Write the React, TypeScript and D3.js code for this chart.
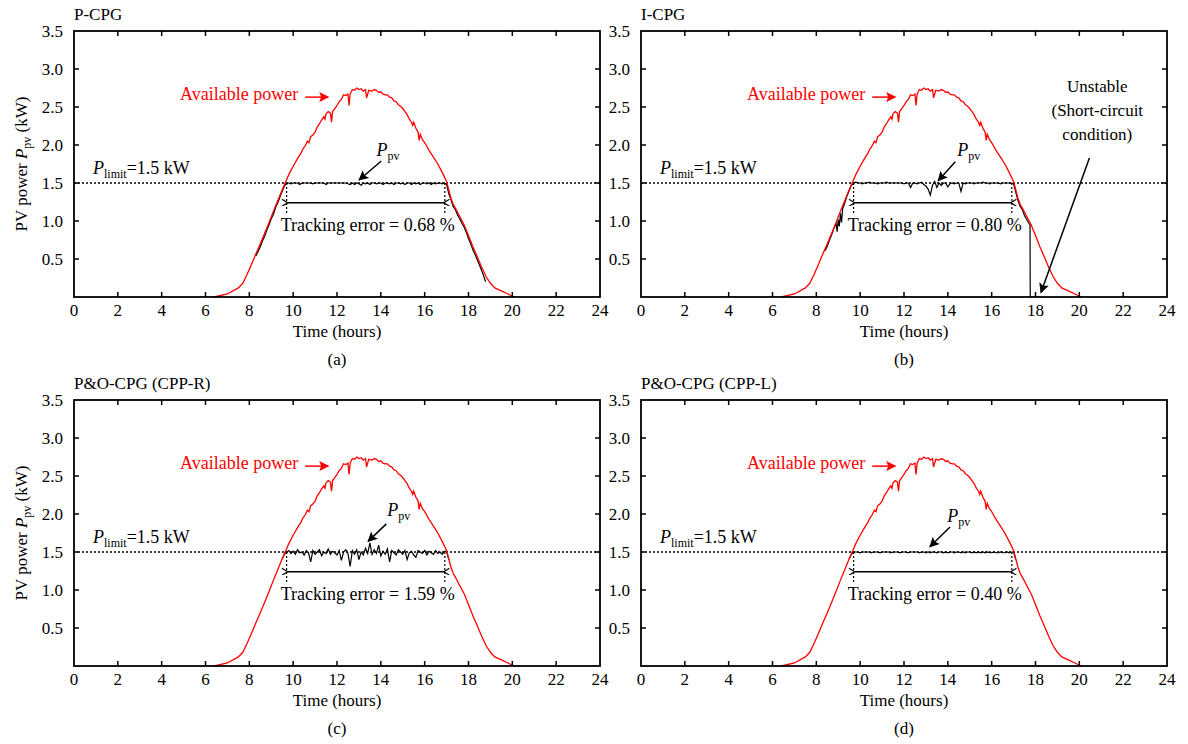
import React from 'react';
import * as d3 from 'd3';

// ---------- data ----------
const availHours = [6.4, 7.0, 7.5, 7.7, 7.9, 8.1, 8.3, 8.5, 8.7, 8.9, 9.1, 9.3, 9.5, 9.65, 9.8, 10.0, 10.2, 10.35, 10.45, 10.55, 10.65, 10.72, 10.8, 10.9, 11.0, 11.1, 11.2, 11.3, 11.4, 11.45, 11.5, 11.6, 11.7, 11.75, 11.8, 11.9, 12.0, 12.1, 12.2, 12.3, 12.4, 12.5, 12.55, 12.6, 12.7, 12.8, 12.9, 13.0, 13.1, 13.2, 13.3, 13.35, 13.45, 13.6, 13.7, 13.8, 13.9, 14.0, 14.1, 14.2, 14.3, 14.4, 14.5, 14.6, 14.7, 14.8, 14.9, 15.0, 15.1, 15.2, 15.3, 15.4, 15.45, 15.5, 15.6, 15.7, 15.75, 15.8, 15.9, 16.0, 16.1, 16.2, 16.4, 16.6, 16.8, 17.0, 17.2, 17.3, 17.4, 17.6, 17.8, 18.0, 18.2, 18.4, 18.6, 18.8, 19.0, 19.2, 19.5, 19.8, 20.0, 20.1];
const availPower = [0.0, 0.04, 0.12, 0.18, 0.30, 0.43, 0.57, 0.70, 0.84, 0.98, 1.13, 1.27, 1.41, 1.51, 1.61, 1.72, 1.82, 1.89, 1.95, 1.99, 2.05, 2.03, 2.11, 2.13, 2.17, 2.24, 2.28, 2.33, 2.37, 2.34, 2.41, 2.44, 2.42, 2.30, 2.44, 2.48, 2.52, 2.57, 2.60, 2.66, 2.65, 2.67, 2.52, 2.67, 2.73, 2.72, 2.75, 2.73, 2.74, 2.71, 2.73, 2.62, 2.72, 2.71, 2.73, 2.72, 2.69, 2.70, 2.67, 2.66, 2.66, 2.63, 2.62, 2.58, 2.57, 2.53, 2.51, 2.48, 2.44, 2.40, 2.34, 2.30, 2.26, 2.30, 2.22, 2.17, 2.06, 2.14, 2.07, 2.03, 1.98, 1.93, 1.84, 1.75, 1.64, 1.52, 1.30, 1.22, 1.17, 1.06, 0.95, 0.81, 0.66, 0.53, 0.39, 0.27, 0.18, 0.12, 0.08, 0.04, 0.01, 0.0];

const flatHours = [9.7, 9.8, 9.9, 10.0, 10.1, 10.2, 10.3, 10.4, 10.5, 10.6, 10.7, 10.8, 10.9, 11.0, 11.1, 11.2, 11.3, 11.4, 11.5, 11.6, 11.7, 11.8, 11.9, 12.0, 12.1, 12.2, 12.3, 12.4, 12.5, 12.6, 12.7, 12.8, 12.9, 13.0, 13.1, 13.2, 13.3, 13.4, 13.5, 13.6, 13.7, 13.8, 13.9, 14.0, 14.1, 14.2, 14.3, 14.4, 14.5, 14.6, 14.7, 14.8, 14.9, 15.0, 15.1, 15.2, 15.3, 15.4, 15.5, 15.6, 15.7, 15.8, 15.9, 16.0, 16.1, 16.2, 16.3, 16.4, 16.5, 16.6, 16.7, 16.8, 16.9];

const ppvFlatA = [1.5, 1.5, 1.49, 1.5, 1.5, 1.5, 1.48, 1.5, 1.5, 1.5, 1.5, 1.5, 1.49, 1.5, 1.5, 1.5, 1.5, 1.5, 1.48, 1.5, 1.5, 1.5, 1.5, 1.5, 1.5, 1.5, 1.5, 1.5, 1.49, 1.48, 1.5, 1.48, 1.5, 1.49, 1.47, 1.5, 1.49, 1.5, 1.48, 1.5, 1.5, 1.49, 1.5, 1.5, 1.48, 1.5, 1.5, 1.49, 1.5, 1.48, 1.5, 1.5, 1.49, 1.5, 1.48, 1.5, 1.5, 1.48, 1.5, 1.49, 1.5, 1.48, 1.5, 1.5, 1.49, 1.5, 1.48, 1.5, 1.49, 1.5, 1.5, 1.49, 1.5];
const ppvFlatB = [1.5, 1.51, 1.5, 1.5, 1.49, 1.5, 1.5, 1.51, 1.5, 1.5, 1.5, 1.49, 1.5, 1.5, 1.5, 1.51, 1.5, 1.5, 1.5, 1.5, 1.5, 1.5, 1.5, 1.49, 1.5, 1.5, 1.44, 1.5, 1.5, 1.49, 1.5, 1.51, 1.48, 1.46, 1.42, 1.34, 1.47, 1.52, 1.44, 1.5, 1.47, 1.5, 1.5, 1.45, 1.49, 1.5, 1.49, 1.5, 1.5, 1.39, 1.5, 1.49, 1.5, 1.5, 1.5, 1.49, 1.5, 1.5, 1.5, 1.51, 1.5, 1.5, 1.49, 1.5, 1.5, 1.5, 1.5, 1.49, 1.5, 1.5, 1.5, 1.5, 1.5];
const ppvFlatC = [1.5, 1.52, 1.48, 1.51, 1.47, 1.53, 1.49, 1.5, 1.46, 1.52, 1.49, 1.37, 1.52, 1.47, 1.5, 1.53, 1.45, 1.5, 1.48, 1.54, 1.47, 1.51, 1.49, 1.46, 1.52, 1.39, 1.5, 1.53, 1.48, 1.31, 1.52, 1.47, 1.53, 1.40, 1.5, 1.46, 1.55, 1.48, 1.62, 1.47, 1.53, 1.48, 1.59, 1.45, 1.51, 1.47, 1.54, 1.37, 1.52, 1.49, 1.46, 1.53, 1.5, 1.47, 1.52, 1.40, 1.49, 1.51, 1.46, 1.43, 1.52, 1.5, 1.48, 1.52, 1.46, 1.51, 1.49, 1.47, 1.52, 1.48, 1.5, 1.47, 1.51];
const ppvFlatD = [1.5, 1.5, 1.5, 1.49, 1.5, 1.5, 1.5, 1.5, 1.49, 1.5, 1.5, 1.5, 1.49, 1.5, 1.5, 1.5, 1.5, 1.49, 1.5, 1.5, 1.5, 1.49, 1.5, 1.5, 1.5, 1.49, 1.5, 1.5, 1.5, 1.5, 1.49, 1.5, 1.5, 1.49, 1.5, 1.49, 1.5, 1.5, 1.49, 1.5, 1.5, 1.49, 1.5, 1.49, 1.5, 1.5, 1.49, 1.5, 1.5, 1.49, 1.5, 1.49, 1.5, 1.5, 1.49, 1.5, 1.49, 1.5, 1.49, 1.5, 1.49, 1.5, 1.49, 1.49, 1.5, 1.49, 1.49, 1.5, 1.49, 1.49, 1.5, 1.49, 1.5];

const ppvUpA: [number, number][] = [[8.3, 0.54], [8.4, 0.60], [8.5, 0.66], [8.6, 0.74], [8.7, 0.80], [8.8, 0.88], [8.9, 0.95], [9.0, 1.03], [9.1, 1.09], [9.2, 1.18], [9.3, 1.24], [9.4, 1.32], [9.5, 1.39], [9.6, 1.46]];
const ppvDownA: [number, number][] = [[17.0, 1.48], [17.1, 1.36], [17.2, 1.28], [17.3, 1.19], [17.4, 1.15], [17.5, 1.08], [17.6, 1.03], [17.7, 0.97], [17.8, 0.92], [17.9, 0.85], [18.0, 0.77], [18.1, 0.70], [18.2, 0.62], [18.3, 0.56], [18.4, 0.49], [18.5, 0.42], [18.6, 0.35], [18.7, 0.27], [18.78, 0.20]];
const ppvUpB: [number, number][] = [[8.4, 0.61], [8.5, 0.67], [8.6, 0.75], [8.7, 0.82], [8.8, 0.90], [8.9, 0.97], [8.95, 0.86], [9.0, 1.02], [9.05, 0.93], [9.1, 1.10], [9.15, 0.98], [9.2, 1.16], [9.3, 1.24], [9.4, 1.33], [9.5, 1.40], [9.6, 1.47]];
const ppvDownB: [number, number][] = [[17.0, 1.49], [17.1, 1.38], [17.2, 1.27], [17.3, 1.19], [17.4, 1.15], [17.5, 1.07], [17.6, 1.02], [17.7, 0.97], [17.75, 0.95], [17.76, 0.0]];
const ppvUpC: [number, number][] = [[9.5, 1.41], [9.6, 1.47]];
const ppvDownC: [number, number][] = [[17.0, 1.51], [17.1, 1.40]];
const ppvUpD: [number, number][] = [[9.5, 1.41], [9.6, 1.47]];
const ppvDownD: [number, number][] = [[17.0, 1.50], [17.1, 1.40]];

const xTicks = [0, 2, 4, 6, 8, 10, 12, 14, 16, 18, 20, 22, 24];
const yTicks = [0.5, 1.0, 1.5, 2.0, 2.5, 3.0, 3.5];
const yTickLabels = ['0.5', '1.0', '1.5', '2.0', '2.5', '3.0', '3.5'];
const titles = ['P-CPG', 'I-CPG', 'P&O-CPG (CPP-R)', 'P&O-CPG (CPP-L)'];
const captions = ['(a)', '(b)', '(c)', '(d)'];
const trackingErrors = ['0.68', '0.80', '1.59', '0.40'];
const pLimit = 1.5;
const trackStart = 9.7;
const trackEnd = 16.92;

const ppvSeries = [
  [...ppvUpA, ...flatHours.map((h, i) => [h, ppvFlatA[i]] as [number, number]), ...ppvDownA],
  [...ppvUpB, ...flatHours.map((h, i) => [h, ppvFlatB[i]] as [number, number]), ...ppvDownB],
  [...ppvUpC, ...flatHours.map((h, i) => [h, ppvFlatC[i]] as [number, number]), ...ppvDownC],
  [...ppvUpD, ...flatHours.map((h, i) => [h, ppvFlatD[i]] as [number, number]), ...ppvDownD],
];
const availSeries: [number, number][] = availHours.map((h, i) => [h, availPower[i]]);

// ---------- layout ----------
const FONT = 'Liberation Serif, Times New Roman, Times, serif';
const W = 526;
const H = 266;
const layouts = [
  { left: 74, bottom: 297, ylabel: true, ppvLabel: [13.8, 1.86], ppvArrow: [14.02, 1.79, 13.01, 1.54] },
  { left: 641, bottom: 297, ylabel: false, ppvLabel: [14.43, 1.86], ppvArrow: [14.34, 1.78, 13.56, 1.53] },
  { left: 74, bottom: 666, ylabel: true, ppvLabel: [14.29, 1.97], ppvArrow: [14.25, 1.87, 13.42, 1.64] },
  { left: 641, bottom: 666, ylabel: false, ppvLabel: [13.97, 1.89], ppvArrow: [14.1, 1.83, 13.18, 1.57] },
];

function Panel({ idx }: { idx: number }) {
  const L = layouts[idx];
  const x = d3.scaleLinear().domain([0, 24]).range([L.left, L.left + W]);
  const y = d3.scaleLinear().domain([0, 3.5]).range([L.bottom, L.bottom - H]);
  const line = d3.line<[number, number]>().x(d => x(d[0])).y(d => y(d[1]));
  const top = L.bottom - H;
  const right = L.left + W;
  const tl = 5;
  const cx = (L.left + right) / 2;
  return (
    <g>
      <text x={L.left} y={top - 11} fontSize={17}>{titles[idx]}</text>
      <line x1={x(0)} x2={x(24)} y1={y(pLimit)} y2={y(pLimit)} stroke="#000" strokeWidth={1.3} strokeDasharray="2,2" />
      <path d={line(ppvSeries[idx]) || ''} fill="none" stroke="#000" strokeWidth={1.2} />
      <path d={line(availSeries) || ''} fill="none" stroke="#ff0000" strokeWidth={1.3} />
      <line x1={x(trackStart)} x2={x(trackStart)} y1={y(1.5)} y2={y(1.08)} stroke="#000" strokeWidth={1.2} strokeDasharray="2,2" />
      <line x1={x(trackEnd)} x2={x(trackEnd)} y1={y(1.5)} y2={y(1.08)} stroke="#000" strokeWidth={1.2} strokeDasharray="2,2" />
      <line x1={x(trackStart) + 1} x2={x(trackEnd) - 1} y1={y(1.24)} y2={y(1.24)} stroke="#000" strokeWidth={1.5}
        markerStart="url(#openArrow)" markerEnd="url(#openArrow)" />
      <text x={x(13.4)} y={y(0.87)} fontSize={18} textAnchor="middle">Tracking error = {trackingErrors[idx]} %</text>
      <text x={x(10.23)} y={y(2.59)} fontSize={18} fill="#ff0000" textAnchor="end">Available power</text>
      <line x1={x(10.55)} x2={x(11.6)} y1={y(2.63)} y2={y(2.63)} stroke="#ff0000" strokeWidth={1.5} markerEnd="url(#redArrow)" />
      <text x={x(L.ppvLabel[0])} y={y(L.ppvLabel[1])} fontSize={18} fontStyle="italic">P<tspan fontSize={12} fontStyle="normal" dy={4}>pv</tspan></text>
      <line x1={x(L.ppvArrow[0])} y1={y(L.ppvArrow[1])} x2={x(L.ppvArrow[2])} y2={y(L.ppvArrow[3])} stroke="#000" strokeWidth={1.5} markerEnd="url(#blackArrow)" />
      <text x={L.left + 19} y={y(1.62)} fontSize={18}>
        <tspan fontStyle="italic">P</tspan><tspan fontSize={12} dy={4}>limit</tspan><tspan dy={-4}>=1.5 kW</tspan>
      </text>
      {idx === 1 && (
        <g>
          <text x={x(20.82)} y={y(2.70)} fontSize={17} textAnchor="middle">Unstable</text>
          <text x={x(20.82)} y={y(2.38)} fontSize={17} textAnchor="middle">(Short-circuit</text>
          <text x={x(20.82)} y={y(2.07)} fontSize={17} textAnchor="middle">condition)</text>
          <line x1={x(20.46)} y1={y(1.83)} x2={x(18.25)} y2={y(0.06)} stroke="#000" strokeWidth={1.5} markerEnd="url(#blackArrow)" />
        </g>
      )}
      <rect x={L.left} y={top} width={W} height={H} fill="none" stroke="#000" strokeWidth={1.8} />
      {xTicks.map(t => (
        <g key={'x' + t}>
          {t > 0 && t < 24 && <line x1={x(t)} x2={x(t)} y1={L.bottom} y2={L.bottom - tl} stroke="#000" strokeWidth={1.5} />}
          {t > 0 && t < 24 && <line x1={x(t)} x2={x(t)} y1={top} y2={top + tl} stroke="#000" strokeWidth={1.5} />}
          <text x={x(t)} y={L.bottom + 19} fontSize={17} textAnchor="middle">{t}</text>
        </g>
      ))}
      {yTicks.map((t, i) => (
        <g key={'y' + t}>
          {t < 3.5 && <line x1={L.left} x2={L.left + tl} y1={y(t)} y2={y(t)} stroke="#000" strokeWidth={1.5} />}
          {t < 3.5 && <line x1={right} x2={right - tl} y1={y(t)} y2={y(t)} stroke="#000" strokeWidth={1.5} />}
          <text x={L.left - 11} y={y(t)} dy="0.35em" fontSize={17} textAnchor="end">{yTickLabels[i]}</text>
        </g>
      ))}
      <text x={cx} y={L.bottom + 40} fontSize={17} textAnchor="middle">Time (hours)</text>
      <text x={cx} y={L.bottom + 68} fontSize={17} textAnchor="middle">{captions[idx]}</text>
      {L.ylabel && (
        <text transform={`translate(27,${(top + L.bottom) / 2}) rotate(-90)`} fontSize={17} textAnchor="middle">
          PV power <tspan fontStyle="italic">P</tspan><tspan fontSize={12} dy={4}>pv</tspan><tspan dy={-4}> (kW)</tspan>
        </text>
      )}
    </g>
  );
}

export default function App() {
  return (
    <svg width={1188} height={744} style={{ position: 'absolute', left: 0, top: 0, background: '#fff', fontFamily: FONT }}>
      <defs>
        <marker id="openArrow" viewBox="0 0 10 10" refX="1" refY="5" markerWidth="7" markerHeight="7" orient="auto-start-reverse" markerUnits="userSpaceOnUse">
          <path d="M9,0 L1,5 L9,10" fill="none" stroke="#000" strokeWidth={1.6} />
        </marker>
        <marker id="redArrow" viewBox="0 0 10 10" refX="9" refY="5" markerWidth="12" markerHeight="10" orient="auto" markerUnits="userSpaceOnUse">
          <path d="M0,0 L10,5 L0,10 L2,5 Z" fill="#ff0000" />
        </marker>
        <marker id="blackArrow" viewBox="0 0 10 10" refX="9" refY="5" markerWidth="11" markerHeight="10" orient="auto" markerUnits="userSpaceOnUse">
          <path d="M0,0 L10,5 L0,10 L2,5 Z" fill="#000" />
        </marker>
      </defs>
      {[0, 1, 2, 3].map(i => <Panel key={i} idx={i} />)}
    </svg>
  );
}
